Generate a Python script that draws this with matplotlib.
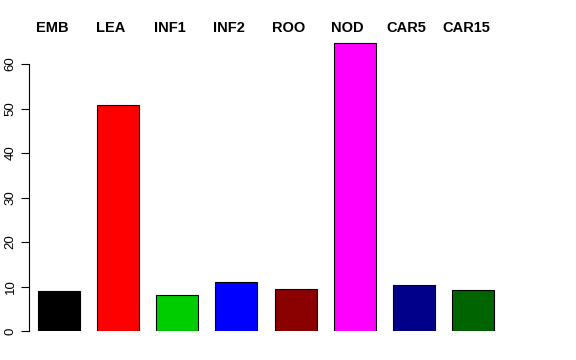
import matplotlib
matplotlib.use("Agg")
import matplotlib.pyplot as plt

plt.rcParams["font.family"] = ["Liberation Sans", "DejaVu Sans"]

# tissue labels and values
tissues = ["EMB", "LEA", "INF1", "INF2", "ROO", "NOD", "CAR5", "CAR15"]
values = [9.1, 50.7, 8.0, 11.1, 9.4, 64.8, 10.3, 9.2]
colors = ["#000000", "#FF0000", "#00CD00", "#0000FF",
          "#8B0000", "#FF00FF", "#00008B", "#006400"]
yticks = [0, 10, 20, 30, 40, 50, 60]


def main():
    fig = plt.figure(figsize=(5.76, 3.6), dpi=100)
    W, H = 576, 360
    left, right, bottom, top = 29, 532, 331, 37.3
    ax = fig.add_axes([left / W, 1 - bottom / H, (right - left) / W, (bottom - top) / H])

    x = list(range(len(tissues)))
    ax.bar(x, values, width=0.71, color=colors, edgecolor="black", linewidth=0.8)

    ax.set_xlim(-0.507, -0.507 + (right - left) / 59.14)
    ax.set_ylim(0, 66)

    for s in ["top", "right", "bottom"]:
        ax.spines[s].set_visible(False)
    ax.spines["left"].set_bounds(0, 60)
    ax.spines["left"].set_linewidth(0.8)
    ax.set_xticks([])
    ax.set_yticks(yticks)
    ax.set_yticklabels([str(v) for v in yticks], rotation=90, va="center", fontsize=9.5)
    ax.tick_params(axis="y", length=6, width=0.8, pad=3)

    # tissue names above the bars
    for xi, name in zip(x, tissues):
        ax.text(xi - 0.12, 1.03, name, transform=ax.get_xaxis_transform(),
                ha="center", va="center", fontsize=10.5, fontweight="bold")

    fig.savefig("out.png", dpi=100)


if __name__ == "__main__":
    main()
